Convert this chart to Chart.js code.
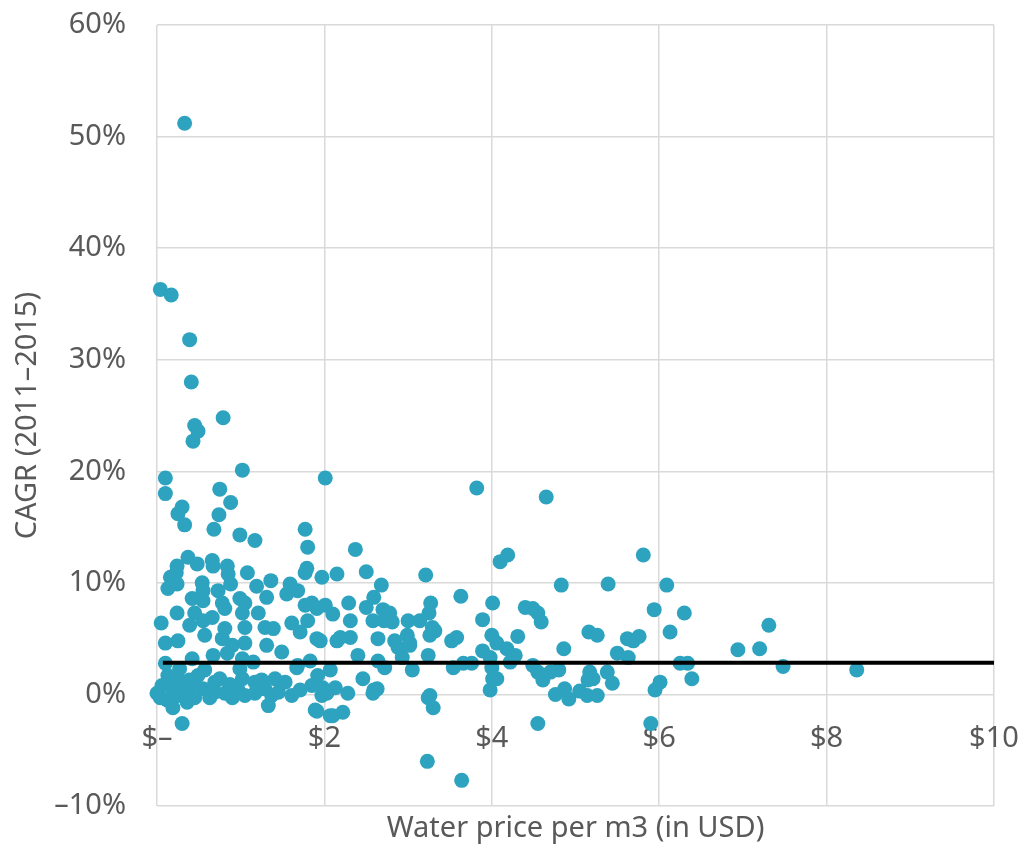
<!DOCTYPE html>
<html>
<head>
<meta charset="utf-8">
<script src="https://cdn.jsdelivr.net/npm/chart.js@4.4.1/dist/chart.umd.min.js"></script>
<style>
  html, body { margin: 0; padding: 0; background: #ffffff; }
  #wrap { width: 1021px; height: 846px; }
</style>
</head>
<body>
<div id="wrap"><canvas id="chart" width="1021" height="846"></canvas></div>
<script>
// Water price per m3 (USD) and CAGR 2011-2015 (%), one entry per city, grouped by price band.
const priceLow = [
  0.33, 0.04, 0.17, 0.39, 0.41, 0.79, 0.45, 0.49, 0.43, 1.02,
  0.10, 2.01, 3.82, 4.65, 0.10, 0.75, 0.88, 0.30, 0.25, 0.74,
  0.33, 0.68, 1.77, 0.99, 1.17, 1.80, 2.37, 5.81, 4.19, 4.10,
  0.37, 0.48, 0.66, 0.67, 0.24, 0.23, 0.84, 0.85, 0.88, 1.08,
  0.16, 0.13, 0.24, 0.54, 0.55, 0.73, 1.19, 1.36, 1.59, 1.68,
  1.55, 1.77, 1.79, 1.97, 0.99, 1.31, 0.42, 0.55, 0.78, 1.05,
  1.77, 1.85, 0.24, 0.45, 0.66, 0.81, 1.02, 1.21, 0.05, 0.39,
  0.55, 0.81, 1.05, 1.29, 1.39, 1.61, 1.71, 1.80, 0.10, 0.25,
  0.57, 0.78, 0.90, 1.05, 1.31, 1.49, 1.91, 0.10, 0.42, 0.67,
  0.84, 1.02, 1.15, 1.68, 1.83, 0.24, 0.49, 0.75, 1.02, 1.17,
  1.41, 1.53, 1.92, 0.06, 0.00, 0.18, 0.30, 0.37, 0.55, 0.69,
  0.81, 0.97, 1.05, 1.29, 1.37, 1.45, 1.61, 1.85, 1.97, 0.19,
  0.36, 1.33, 1.89, 0.30, 0.04, 0.12, 0.25, 0.45, 0.63, 0.90,
  1.17, 1.71, 0.45, 0.87, 1.25, 0.57, 0.27, 0.99, 0.39, 0.69,
  0.13
];
const cagrLow = [
  51.2, 36.3, 35.8, 31.8, 28.0, 24.8, 24.1, 23.6, 22.7, 20.1,
  19.4, 19.4, 18.5, 17.7, 18.0, 18.4, 17.2, 16.8, 16.2, 16.1,
  15.2, 14.8, 14.8, 14.3, 13.8, 13.2, 13.0, 12.5, 12.5, 11.9,
  12.3, 11.7, 12.0, 11.5, 11.5, 10.9, 11.5, 10.8, 9.9, 10.9,
  10.5, 9.5, 9.9, 10.0, 9.3, 9.3, 9.7, 10.2, 9.9, 9.3,
  9.0, 10.9, 11.3, 10.5, 8.6, 8.7, 8.6, 8.4, 8.2, 8.2,
  8.0, 8.2, 7.3, 7.3, 6.9, 7.7, 7.3, 7.3, 6.4, 6.2,
  6.6, 5.9, 6.0, 6.0, 5.9, 6.4, 5.6, 6.6, 4.6, 4.8,
  5.3, 5.0, 4.4, 4.6, 4.4, 3.8, 5.0, 2.8, 3.2, 3.5,
  3.7, 3.2, 2.9, 2.6, 3.0, 1.5, 1.7, 1.4, 1.4, 1.1,
  1.4, 1.1, 1.7, 0.8, 0.1, 0.5, 0.8, 0.2, 0.5, 0.2,
  0.1, 0.4, -0.1, 0.5, -0.1, 0.2, -0.1, 0.8, -0.1, -1.2,
  -0.7, -1.0, -1.4, -2.6, -0.3, -0.5, -0.1, -0.3, -0.3, -0.3,
  0.1, 0.4, 1.0, 0.9, 1.3, 2.2, 2.3, 2.3, 1.3, 1.1,
  1.7
];
const priceMid = [
  2.15, 2.50, 3.21, 2.68, 2.59, 3.63, 4.01, 2.01, 2.10, 2.29,
  2.50, 2.70, 2.78, 3.27, 3.25, 3.00, 3.14, 2.58, 3.89, 2.31,
  2.81, 2.15, 2.31, 1.95, 2.64, 2.84, 2.99, 3.32, 3.26, 3.52,
  3.58, 4.00, 4.06, 2.88, 3.02, 3.89, 2.40, 2.64, 2.72, 2.93,
  3.24, 3.54, 3.66, 3.76, 2.07, 3.05, 2.46, 2.63, 2.58, 2.28,
  1.98, 2.13, 3.98, 4.01, 3.26, 3.30, 2.10, 2.22, 3.23, 3.64,
  3.02, 3.29, 4.18, 4.28, 4.00, 4.06, 1.67, 2.59, 2.03, 1.91,
  2.07, 3.24, 2.71, 1.91, 2.19
];
const cagrMid = [
  10.8, 11.0, 10.7, 9.8, 8.7, 8.8, 8.2, 8.0, 7.2, 8.2,
  7.8, 7.6, 7.3, 8.2, 7.3, 6.6, 6.6, 6.6, 6.7, 6.6,
  6.5, 4.8, 5.1, 4.8, 5.0, 4.8, 5.3, 5.7, 5.3, 4.8,
  5.1, 5.3, 4.6, 4.2, 4.4, 3.9, 3.5, 3.0, 2.4, 3.3,
  3.5, 2.4, 2.8, 2.8, 2.2, 2.2, 1.4, 0.5, 0.1, 0.1,
  0.6, 0.6, 0.4, 1.4, -0.1, -1.2, -1.9, -1.6, -6.0, -7.7,
  4.6, 6.0, 4.1, 3.5, 2.4, 1.4, 2.4, 0.4, 0.1, -1.5,
  -1.9, -0.3, 6.6, 7.7, 5.1
];
const priceHigh = [
  4.83, 5.39, 6.09, 4.40, 4.49, 4.55, 4.59, 5.94, 6.30, 4.31,
  5.16, 5.26, 6.13, 5.62, 5.69, 5.76, 4.86, 5.50, 5.63, 3.98,
  4.22, 4.49, 4.55, 4.61, 4.70, 4.80, 5.17, 5.21, 5.15, 5.38,
  5.44, 6.25, 6.34, 6.39, 4.76, 4.87, 4.92, 5.05, 5.14, 5.26,
  6.01, 5.95, 4.55, 5.90, 6.94, 7.20, 7.31, 7.48, 8.36
];
const cagrHigh = [
  9.8, 9.9, 9.8, 7.8, 7.7, 7.3, 6.5, 7.6, 7.3, 5.2,
  5.6, 5.3, 5.6, 5.0, 4.8, 5.2, 4.1, 3.7, 3.3, 3.3,
  2.9, 2.6, 2.0, 1.3, 2.0, 2.2, 2.0, 1.4, 1.3, 2.0,
  1.0, 2.8, 2.8, 1.4, 0.0, 0.5, -0.4, 0.3, -0.1, -0.1,
  1.1, 0.4, -2.6, -2.6, 4.0, 4.1, 6.2, 2.5, 2.2
];

// Reference level drawn as a horizontal black line
const averageCagr = 2.85;
const averageSpan = [0.07, 10];

// Axis ranges and tick steps
const xRange = [0, 10];
const xStep = 2;
const yRange = [-10, 60];
const yStep = 10;

const FONT = '"Noto Sans", "Open Sans", sans-serif';
const TEXT = '#595959';
const GRID = '#d9d9d9';
const FONT_SIZE = 29;

const prices = priceLow.concat(priceMid, priceHigh);
const rates = cagrLow.concat(cagrMid, cagrHigh);
const points = prices.map((p, i) => ({ x: p, y: rates[i] }));
const avgLine = averageSpan.map(x => ({ x: x, y: averageCagr }));

new Chart(document.getElementById('chart'), {
  type: 'scatter',
  data: {
    datasets: [
      {
        type: 'line',
        data: avgLine,
        borderColor: '#000000',
        borderWidth: 4,
        pointRadius: 0,
        fill: false,
        order: 0
      },
      {
        type: 'scatter',
        data: points,
        backgroundColor: '#2ea3bf',
        borderWidth: 0,
        pointRadius: 7.5,
        pointHoverRadius: 7.5,
        clip: false,
        order: 1
      }
    ]
  },
  options: {
    responsive: false,
    animation: false,
    layout: { padding: { left: 0, right: 27, top: 25, bottom: 0 } },
    plugins: { legend: { display: false }, tooltip: { enabled: false } },
    scales: {
      // Bottom axis: vertical grid lines and the axis title
      x: {
        type: 'linear',
        position: 'bottom',
        min: xRange[0],
        max: xRange[1],
        grid: { color: GRID, lineWidth: 1.5, drawTicks: false },
        border: { display: false },
        ticks: { display: false, stepSize: xStep },
        title: {
          display: true,
          text: 'Water price per m3 (in USD)',
          color: TEXT,
          font: { family: FONT, size: FONT_SIZE },
          padding: { top: 0, bottom: 0 }
        },
        afterFit(scale) { scale.height = 40; }
      },
      // Price labels hang from the 0% line
      xLabels: {
        type: 'linear',
        axis: 'x',
        position: { y: 0 },
        min: xRange[0],
        max: xRange[1],
        grid: { display: false, drawTicks: true, tickLength: 27 },
        border: { display: false },
        ticks: {
          stepSize: xStep,
          padding: 0,
          color: TEXT,
          font: { family: FONT, size: FONT_SIZE },
          maxRotation: 0,
          autoSkip: false,
          callback: v => v === 0 ? '$\u2013' : '$' + v
        }
      },
      y: {
        type: 'linear',
        position: 'left',
        min: yRange[0],
        max: yRange[1],
        grid: {
          color: GRID,
          lineWidth: 1.5,
          drawTicks: true,
          tickLength: 31,
          tickColor: 'rgba(0,0,0,0)'
        },
        border: { display: false },
        ticks: {
          stepSize: yStep,
          padding: 0,
          color: TEXT,
          font: { family: FONT, size: FONT_SIZE },
          callback: v => (v < 0 ? '\u2013' + Math.abs(v) : v) + '%'
        },
        title: {
          display: true,
          text: 'CAGR (2011\u20132015)',
          color: TEXT,
          font: { family: FONT, size: FONT_SIZE },
          padding: { top: 10, bottom: 0 }
        },
        afterFit(scale) { scale.width = 157; }
      }
    }
  }
});
</script>
</body>
</html>
